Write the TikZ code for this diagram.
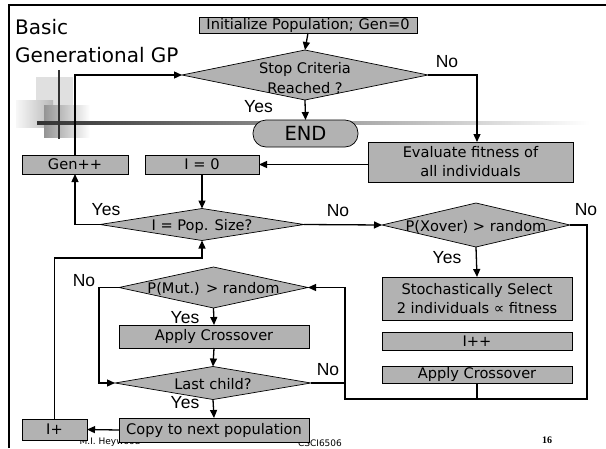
\documentclass[tikz,border=0pt]{standalone}
\usepackage{fontspec}
\setmainfont{DejaVu Sans}
\newfontfamily\labfont{Liberation Sans}
\newfontfamily\footfont{Liberation Serif}
\usetikzlibrary{shapes.geometric,arrows.meta,calc}
\definecolor{boxgray}{RGB}{178,178,178}
\begin{document}
\begin{tikzpicture}[x=1pt,y=-1pt,
  box/.style={draw=black, line width=0.7pt, fill=boxgray, rectangle, inner sep=0pt, outer sep=0pt,
    font=\fontsize{14.6}{19}\selectfont, align=center},
  dia/.style={draw=black, line width=0.7pt, fill=boxgray, diamond, inner sep=0pt, outer sep=0pt},
  dtext/.style={font=\fontsize{14.6}{20}\selectfont, align=center, inner sep=0pt},
  yn/.style={font=\labfont\fontsize{17.5}{19}\selectfont, inner sep=0pt},
  arr/.style={line width=1.3pt, -{Triangle[length=8pt,width=7pt]}},
  ln/.style={line width=1.3pt},
  foot/.style={font=\fontsize{9}{10}\selectfont, inner sep=0pt},
]
% background / bounding box
\fill[white] (0,0) rectangle (606,448);
\useasboundingbox (0,0) rectangle (606,448);
% slide frame
\draw[line width=2pt] (9,448) -- (9,5) -- (606,5);
% template decoration
\fill[black!12] (36,77) rectangle (73,110);
\shade[left color=black!3, right color=black!28] (16,100) rectangle (53,127);
\shade[left color=black!42, right color=white] (44,105) rectangle (90,137);
\shade[left color=black!80, right color=white] (37,121.5) rectangle (590,124.5);
\fill[black!80] (58,70) rectangle (60,139);
% title
\node[anchor=base west, inner sep=0pt, font=\fontsize{20}{24}\selectfont] (t1) at (15,34) {Basic};
\node[anchor=base west, inner sep=0pt, font=\fontsize{20}{24}\selectfont] (t2) at (15,62) {Generational GP};
% footer
\node[foot] (f1) at (110,442) {M.I. Heywood};
\node[foot] (f2) at (320,443) {CSCI6506};
\node[foot, font=\footfont\bfseries\fontsize{10}{11}\selectfont] (f3) at (547,440) {16};
% nodes
\node[box, minimum width=218pt, minimum height=16pt] (init) at (308,25) {Initialize Population; Gen=0};
\node[dia, minimum width=246pt, minimum height=50pt] (stop) at (305,75) {};
\node[dtext] (stopt) at (305,78) {Stop Criteria\\Reached ?};
\node[draw=black, line width=0.7pt, fill=boxgray, rounded corners=13pt, minimum width=105pt, minimum height=27pt,
  inner sep=0pt, outer sep=0pt, font=\fontsize{19.5}{20}\selectfont] (end) at (305.5,133.5) {END};
\node[box, minimum width=205pt, minimum height=40pt] (eval) at (470.5,162) {Evaluate fitness of\\all individuals};
\node[box, minimum width=114pt, minimum height=19pt] (izero) at (202,164.5) {I = 0};
\node[box, minimum width=106pt, minimum height=19pt] (gen) at (75,164.5) {Gen++};
\node[dia, minimum width=204pt, minimum height=32pt] (pop) at (202,224.5) {};
\node[dtext] (popt) at (202,226) {I = Pop. Size?};
\node[dia, minimum width=188pt, minimum height=44pt] (xover) at (476,225) {};
\node[dtext] (xovert) at (476,227) {P(Xover) > random};
\node[box, minimum width=190pt, minimum height=43pt, font=\fontsize{14.6}{18.5}\selectfont] (sel) at (477,298.5) {Stochastically Select\\2 individuals ∝ fitness};
\node[box, minimum width=190pt, minimum height=18pt] (ipp) at (477,341) {I++};
\node[box, minimum width=190pt, minimum height=17pt] (cross2) at (477,374.5) {Apply Crossover};
\node[dia, minimum width=189pt, minimum height=41pt] (mut) at (213.5,287.5) {};
\node[dtext] (mutt) at (213.5,289) {P(Mut.) > random};
\node[box, minimum width=190pt, minimum height=23pt] (cross1) at (214,336.5) {Apply Crossover};
\node[dia, minimum width=196pt, minimum height=33pt] (last) at (213,383) {};
\node[dtext] (lastt) at (213,384.5) {Last child?};
\node[box, minimum width=190pt, minimum height=24pt] (copy) at (214,430) {Copy to next population};
\node[box, minimum width=65pt, minimum height=21pt] (iplus) at (54.5,429.5) {I+};
% coordinates
\coordinate (c1) at (587,399);
\coordinate (c2) at (345,399);
% connectors
\draw[arr] (init.south) -- (stop.north);
\draw[arr] (stop.east) -| ([xshift=6.5pt]eval.north);
\draw[arr] (stop.south) -- (end.north);
\draw[arr] (eval.west |- izero.east) -- (izero.east);
\draw[arr] (izero.south) -- (pop.north);
\draw[arr] (pop.west) -| (gen.south);
\draw[arr] (gen.north) |- (stop.west);
\draw[arr] (pop.east) -- (xover.west);
\draw[arr] (xover.east) -| (c1) -- (c2) |- (mut.east);
\draw[arr] (xover.south) -- (sel.north);
\draw[ln] (cross2.south) -- (cross2.south |- c1);
\draw[ln] (last.east) -- (last.east -| c2);
\draw[arr] (mut.south) -- (cross1.north);
\draw[arr] (cross1.south) -- (last.north);
\draw[arr] (last.south) -- (copy.north);
\draw[arr] (mut.west) -- ++(-20,0) |- (last.west);
\draw[arr] (copy.west) -- (iplus.east);
\draw[arr] (iplus.north) |- ([yshift=-17.5pt]pop.south) -- (pop.south);
% labels
\node[yn] (y1) at (258.5,107) {Yes};
\node[yn] (n1) at (447,62) {No};
\node[yn] (y2) at (106,210) {Yes};
\node[yn] (n2) at (338,211) {No};
\node[yn] (n3) at (586,210) {No};
\node[yn] (y3) at (447,258) {Yes};
\node[yn] (n4) at (84,281) {No};
\node[yn] (y4) at (185,318) {Yes};
\node[yn] (n5) at (328,370) {No};
\node[yn] (y5) at (185,403) {Yes};
\end{tikzpicture}
\end{document}
